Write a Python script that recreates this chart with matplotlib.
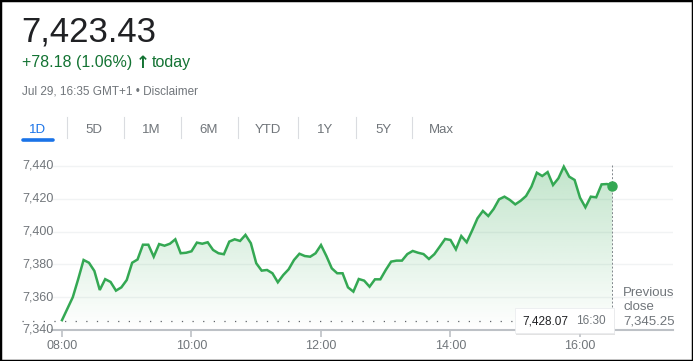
import numpy as np
import matplotlib
matplotlib.use("Agg")
import matplotlib.pyplot as plt
from matplotlib.patches import Rectangle
from matplotlib.transforms import blended_transform_factory

# index price, 5 minute steps from 08:00 to 16:30
prices = [7346, 7353, 7360, 7371, 7382.7, 7381, 7376, 7364.4, 7371, 7369.3,
          7364, 7366, 7370.5, 7381, 7383, 7392, 7392, 7384.7, 7392.4, 7391.4,
          7392.6, 7395.3, 7386.8, 7387.1, 7388, 7393.3, 7392.6, 7393.5, 7388.8, 7386.8,
          7386.2, 7393.9, 7395.3, 7394.3, 7398, 7392.9, 7380.7, 7376.2, 7376.6, 7374.6,
          7369.1, 7373.5, 7377, 7382.7, 7386.5, 7385.1, 7384.7, 7386.8, 7391.8, 7385.1,
          7377.6, 7374.6, 7374.6, 7366, 7363.4, 7371.1, 7370.1, 7366.4, 7370.9, 7370.9,
          7376.6, 7381.7, 7382.3, 7382.3, 7386.3, 7388.2, 7387.1, 7386.3, 7383.3, 7386.2,
          7390.8, 7395.5, 7394.9, 7389.2, 7397.3, 7393.5, 7400.6, 7408.1, 7412.6, 7409.5,
          7413.8, 7419.7, 7421.3, 7419.3, 7416.6, 7418.8, 7421.7, 7427.4, 7435.9, 7433.9,
          7436.3, 7428.4, 7432.5, 7439.6, 7433.5, 7431.5, 7420.7, 7414.8, 7421.3, 7420.9,
          7428.8, 7429, 7428.07]
hours = [8 + 5 * i / 60 for i in range(len(prices))]

prev_close = 7345.25
last_price = "7,423.43"
change = "+78.18 (1.06%)"
stamp = "Jul 29, 16:35 GMT+1 \u2022 Disclaimer"
tabs = ["1D", "5D", "1M", "6M", "YTD", "1Y", "5Y", "Max"]
y_ticks = [7340, 7360, 7380, 7400, 7420, 7440]
x_ticks = [8, 10, 12, 14, 16]
x_labels = ["08:00", "10:00", "12:00", "14:00", "16:00"]

W, H = 693, 361
GREEN = "#34a853"
GREY = "#70757a"
FONT = ["Liberation Sans", "DejaVu Sans"]
plt.rcParams["font.family"] = FONT


def fx(px):
    return px / W


def fy(py):
    return 1 - py / H


fig = plt.figure(figsize=(W / 100, H / 100), dpi=100)
ax = fig.add_axes([fx(52), fy(330), fx(673) - fx(52), fy(160) - fy(330)])

x0, x1 = 8 - 10 / 64.75, 8 + 611 / 64.75
ylo, yhi = 7340, 7340 + 170 / 1.64
ax.set_xlim(x0, x1)
ax.set_ylim(ylo, yhi)

# grid lines
for v in y_ticks[1:]:
    ax.axhline(v, color="#f1f3f4", lw=1, zorder=0)

# gradient fill under the line
poly = ax.fill_between(hours, prices, ylo, facecolor="none", edgecolor="none")
grad = np.zeros((100, 2, 4))
grad[..., 0], grad[..., 1], grad[..., 2] = 52 / 255, 168 / 255, 83 / 255
grad[..., 3] = np.linspace(0.3, 0.0, 100)[:, None]
im = ax.imshow(grad, extent=[hours[0], hours[-1], ylo, 7440], origin="upper",
               aspect="auto", zorder=1)
im.set_clip_path(poly.get_paths()[0], transform=ax.transData)

ax.plot(hours, prices, color=GREEN, lw=1.8, zorder=3, solid_joinstyle="miter")
ax.plot(hours[-1], prices[-1], "o", color=GREEN, ms=6.5, zorder=4)

# previous close dotted line
ax.plot([8 - 40 / 64.75, hours[-1] + 0.07], [prev_close, prev_close], color="#5f6368",
        lw=0.9, linestyle=(0, (1, 7.5)), clip_on=False, zorder=2)
# vertical marker line
ax.plot([hours[-1], hours[-1]], [7440.5, 7340 + 20 / 1.64], color="#80868b",
        lw=0.7, linestyle=(0, (2, 2)), clip_on=False, zorder=2)

for s in ["top", "right", "left"]:
    ax.spines[s].set_visible(False)
ax.spines["bottom"].set_color("#bdc1c6")
ax.spines["bottom"].set_linewidth(1.5)
ax.set_yticks([])
ax.set_xticks(x_ticks, x_labels)
ax.tick_params(axis="x", colors="#bdc1c6", labelcolor=GREY, labelsize=9,
               length=5, width=1.2, pad=2)
ax.patch.set_alpha(0)

tr = blended_transform_factory(fig.transFigure, ax.transData)
for v in y_ticks:
    ax.text(fx(22), v, f"{v:,}", transform=tr, ha="left", va="center",
            fontsize=9, color=GREY, clip_on=False)

# tooltip
fig.patches.append(Rectangle((fx(516), fy(334.5)), fx(99), fy(308) - fy(333),
                             transform=fig.transFigure, facecolor="#d0d0d0",
                             edgecolor="none", zorder=5, alpha=0.6))
fig.patches.append(Rectangle((fx(515), fy(333)), fx(99), fy(308) - fy(333),
                             transform=fig.transFigure, facecolor="white",
                             edgecolor="#e8eaed", lw=0.5, zorder=6))
fig.text(fx(522.5), fy(321), f"{prices[-1]:,.2f}", fontsize=8.5, color="#202124",
         va="center", ha="left", zorder=7)
fig.text(fx(576.5), fy(321), "16:30", fontsize=8.5, color=GREY, va="center",
         ha="left", zorder=7)

# previous close label
fig.text(fx(623), fy(292.7), "Previous", fontsize=9.5, color=GREY, va="center")
fig.text(fx(623), fy(307), "close", fontsize=9.5, color=GREY, va="center")
fig.text(fx(623), fy(321.7), f"{prev_close:,.2f}", fontsize=9.5, color=GREY, va="center")

# header
fig.text(fx(21), fy(41), last_price, fontsize=25, color="#202124", va="baseline")
fig.text(fx(22), fy(67), change, fontsize=11.5, color="#137333", va="baseline")
fig.text(fx(136), fy(67.5), "\u2191", fontsize=12, color="#137333", va="baseline",
         weight="bold", family=["DejaVu Sans"])
fig.text(fx(151.5), fy(67), "today", fontsize=11.5, color="#137333", va="baseline")
fig.text(fx(22), fy(94), stamp, fontsize=8.5, color=GREY, va="baseline")

# range tabs
tab_x = [38, 94.3, 151.7, 208.5, 267.5, 325, 383.3, 441.7]
sep_x = [66.7, 124, 181, 237.7, 298.3, 355.7, 412.3]
for t, x in zip(tabs, tab_x):
    fig.text(fx(x), fy(133), t, fontsize=9.5, ha="center", va="baseline",
             color="#1a73e8" if t == "1D" else GREY)
for x in sep_x:
    fig.add_artist(plt.Line2D([fx(x), fx(x)], [fy(117), fy(138)], color="#dadce0",
                              lw=0.8))
fig.add_artist(plt.Line2D([fx(23), fx(53)], [fy(140.5), fy(140.5)], color="#1a73e8",
                          lw=2.6, solid_capstyle="round"))

# outer frame
fig.patches.append(Rectangle((0, 0), 1, 1, transform=fig.transFigure, fill=False,
                             edgecolor="black", lw=2.5, zorder=10))

fig.savefig("out.png", dpi=100)
